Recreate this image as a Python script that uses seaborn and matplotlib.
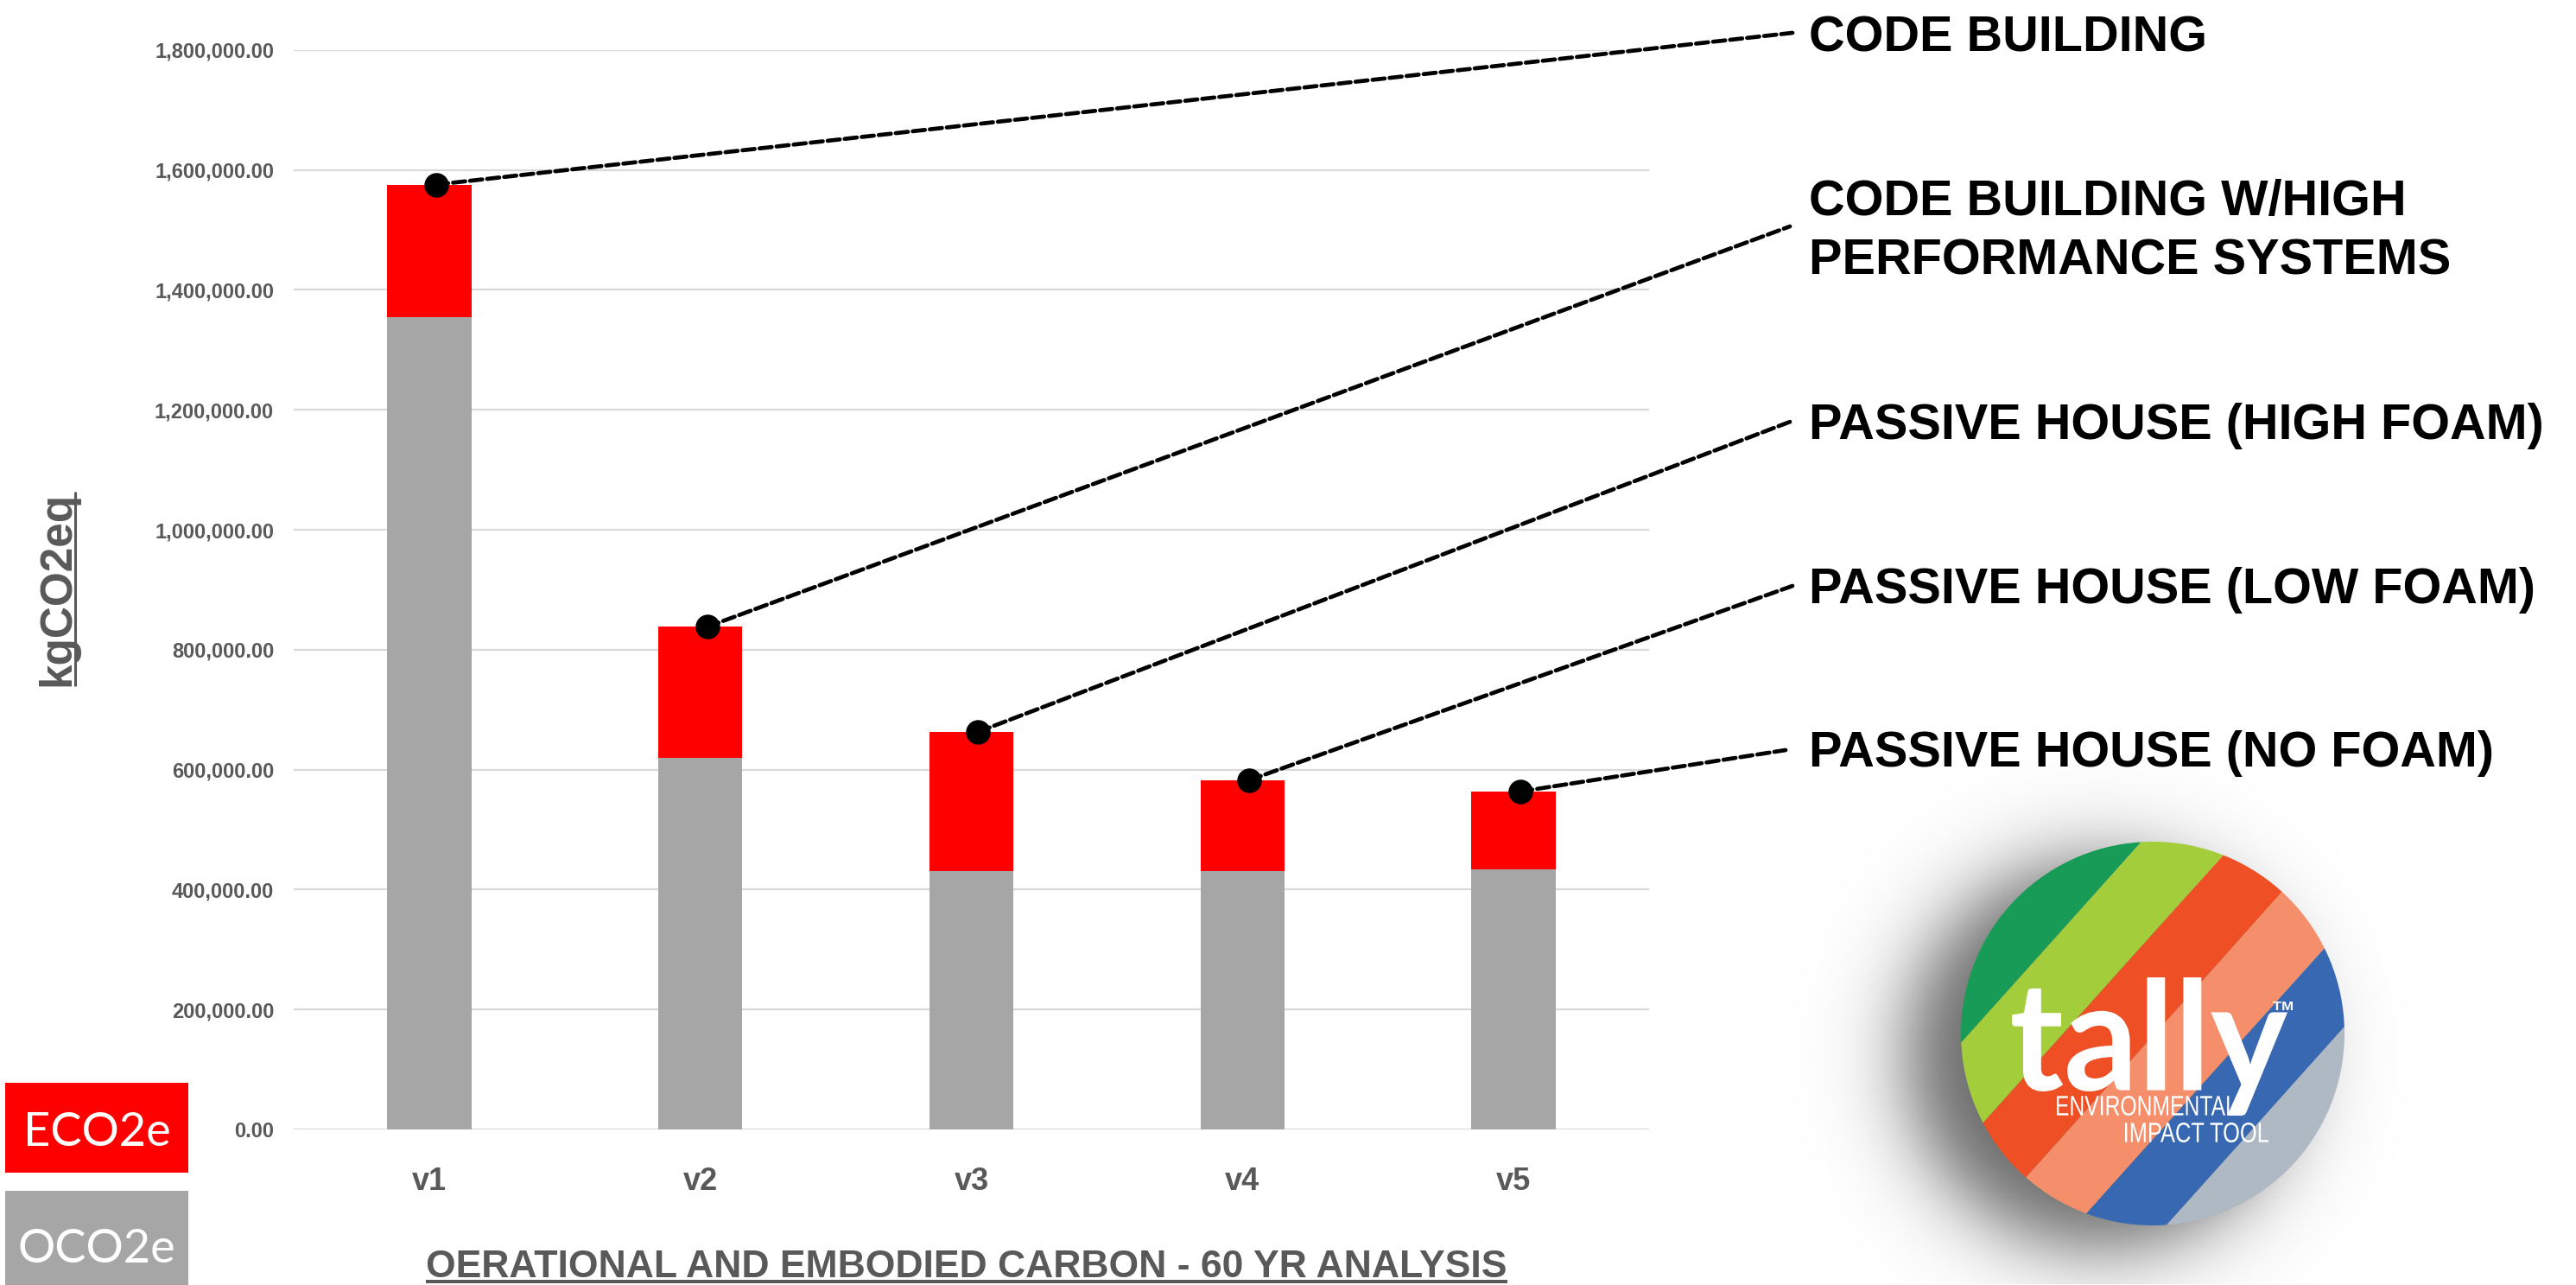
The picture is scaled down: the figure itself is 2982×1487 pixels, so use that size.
import numpy as np
import pandas as pd
import matplotlib
matplotlib.use("Agg")
import matplotlib.pyplot as plt
import seaborn as sns
from matplotlib.patches import Rectangle, Circle, Polygon, PathPatch
from matplotlib.textpath import TextPath
from matplotlib.font_manager import FontProperties
from matplotlib.transforms import Affine2D
from matplotlib.ticker import StrMethodFormatter

# ---- data -------------------------------------------------------------
categories = ["v1", "v2", "v3", "v4", "v5"]
operational = [1355000, 620000, 430500, 431000, 434000]   # OCO2e, kgCO2eq
embodied = [220500, 218000, 232500, 151500, 129500]       # ECO2e, kgCO2eq
scenario_labels = [
    ["CODE BUILDING"],
    ["CODE BUILDING W/HIGH", "PERFORMANCE SYSTEMS"],
    ["PASSIVE HOUSE (HIGH FOAM)"],
    ["PASSIVE HOUSE (LOW FOAM)"],
    ["PASSIVE HOUSE (NO FOAM)"],
]
y_ticks = [0, 200000, 400000, 600000, 800000, 1000000, 1200000, 1400000,
           1600000, 1800000]
legend_labels = ["ECO2e", "OCO2e"]
x_title = "OERATIONAL AND EMBODIED CARBON - 60 YR ANALYSIS"
y_title = "kgCO2eq"

# ---- style ------------------------------------------------------------
W, H = 2982, 1487
RED = "#FF0000"
GREY = "#A6A6A6"
TEXT = "#595959"
GRID = "#D9D9D9"

sns.set_theme(style="white")
plt.rcParams["font.family"] = ["Liberation Sans", "DejaVu Sans"]

fig = plt.figure(figsize=(W / 100, H / 100), dpi=100)
fig.patch.set_facecolor("white")

# overlay in pixel units (y grows downward) for callouts, legend and logo
ov = fig.add_axes([0, 0, 1, 1], zorder=3)
ov.set_xlim(0, W)
ov.set_ylim(H, 0)
ov.axis("off")

ax = fig.add_axes([340 / W, (H - 1307) / H, (1909 - 340) / W, (1307 - 57.8) / H],
                  zorder=2)
ax.patch.set_alpha(0)

df = pd.DataFrame({"version": categories,
                   "operational": operational,
                   "embodied": embodied})
df["total"] = df["operational"] + df["embodied"]

# stacked bars: full height in red, operational part in grey on top
sns.barplot(data=df, x="version", y="total", color=RED, saturation=1,
            width=0.31, linewidth=0, errorbar=None, ax=ax)
sns.barplot(data=df, x="version", y="operational", color=GREY, saturation=1,
            width=0.31, linewidth=0, errorbar=None, ax=ax)

ax.set_xlim(-0.5, len(categories) - 0.5)
ax.set_ylim(0, 1800000)
ax.set_yticks(y_ticks)
ax.yaxis.set_major_formatter(StrMethodFormatter("{x:,.2f}"))
ax.grid(axis="y", color=GRID, lw=1.6)
ax.grid(axis="x", visible=False)
ax.set_axisbelow(True)
for s in ax.spines.values():
    s.set_visible(False)
ax.tick_params(axis="y", length=0, pad=16.5, labelsize=17, labelcolor=TEXT)
ax.tick_params(axis="x", length=0, pad=31, labelsize=26, labelcolor=TEXT)
for lab in ax.get_xticklabels() + ax.get_yticklabels():
    lab.set_fontweight("bold")

# axis titles
ax.set_xlabel(x_title, fontsize=32, fontweight="bold", color=TEXT,
              va="baseline", ha="center")
ax.xaxis.set_label_coords(1119, 1478, transform=ov.transData)
ax.set_ylabel(y_title, fontsize=37, fontweight="bold", color=TEXT,
              rotation=90, rotation_mode="anchor", va="baseline", ha="center")
ax.yaxis.set_label_coords(80, 681.5, transform=ov.transData)

# ---- callouts: dot on each bar, dashed leader to its scenario name ----
totals = df["total"].to_numpy()
dot_x = np.arange(len(categories)) + 0.025
anchors = [(2075, 38), (2072, 262), (2075, 487), (2075, 678), (2067, 868)]
baselines = [[59], [249, 317], [508], [698], [887]]
for i in range(len(categories)):
    ax_x, ax_y = anchors[i]
    ax.annotate("", xy=(ax_x / W, 1 - ax_y / H), xycoords="figure fraction",
                xytext=(dot_x[i], totals[i]), textcoords="data",
                arrowprops=dict(arrowstyle="-", color="black", lw=3.4,
                                linestyle=(0, (3, 1.2)), shrinkA=0, shrinkB=0),
                annotation_clip=False)
    for line, base in zip(scenario_labels[i], baselines[i]):
        ov.text(2094, base, line, fontsize=41.5, fontweight="bold",
                color="black", ha="left", va="baseline")
ax.plot(dot_x, totals, "o", color="black", ms=19.5, ls="none",
        clip_on=False, zorder=6)

# ---- legend swatches ----
ov.add_patch(Rectangle((6, 1253), 212, 104, facecolor=RED, edgecolor="none"))
ov.add_patch(Rectangle((6, 1378), 212, 109, facecolor=GREY, edgecolor="none"))
ov.text(112, 1326, legend_labels[0], fontsize=39, color="white",
        family=["Lato", "DejaVu Sans"], ha="center", va="baseline")
ov.text(112, 1461, legend_labels[1], fontsize=39, color="white",
        family=["Lato", "DejaVu Sans"], ha="center", va="baseline")

# ---- tally badge ----
cx, cy, R = 2492, 1196, 222

xs = np.arange(2040, 2800, 2.0)
ys = np.arange(880, 1487, 2.0)
X, Y = np.meshgrid(xs, ys)
dist = np.hypot(X - (cx - 60), Y - (cy + 25))
shadow = np.zeros(X.shape + (4,))
shadow[..., 3] = 0.6 / (1 + np.exp((dist - R) / 28))
ov.imshow(shadow, extent=[xs[0], xs[-1], ys[-1], ys[0]], origin="upper",
          aspect="auto", interpolation="bilinear", zorder=1)

n = np.array([0.744, 0.668])
n = n / np.linalg.norm(n)
t = np.array([-n[1], n[0]])
c = np.array([cx, cy])
bounds = [-400, -158, -77, 2, 82, 160, 400]
stripe_colors = ["#189B57", "#A3CD3B", "#EF4F24", "#F48E6B", "#3768B1", "#AFB9C3"]
clip = Circle((cx, cy), R, transform=ov.transData)
L = 400
for k, col in enumerate(stripe_colors):
    d1, d2 = bounds[k], bounds[k + 1]
    pts = [c + d1 * n - L * t, c + d1 * n + L * t,
           c + d2 * n + L * t, c + d2 * n - L * t]
    poly = Polygon(pts, closed=True, facecolor=col, edgecolor="none", zorder=2)
    ov.add_patch(poly)
    poly.set_clip_path(clip)


def fit_text(axis, s, box, family, weight, color, z=4):
    x0, x1, ytop, ybot = box
    tp = TextPath((0, 0), s, size=100,
                  prop=FontProperties(family=family, weight=weight))
    ext = tp.get_extents()
    sx = (x1 - x0) / ext.width
    sy = (ybot - ytop) / ext.height
    tr = (Affine2D().translate(-ext.x0, -ext.y1).scale(sx, -sy)
          .translate(x0, ytop) + axis.transData)
    axis.add_patch(PathPatch(tp, facecolor=color, edgecolor="none",
                             transform=tr, zorder=z))


fit_text(ov, "tally", (2329, 2648, 1131, 1291), "Lato", "bold", "white")
fit_text(ov, "TM", (2631, 2654, 1159, 1169), "Liberation Sans", "bold", "white")
fit_text(ov, "ENVIRONMENTAL", (2381, 2589, 1268, 1291), "Liberation Sans",
         "normal", "white")
fit_text(ov, "IMPACT TOOL", (2460, 2626, 1299, 1322), "Liberation Sans",
         "normal", "white")

ov.set_xlim(0, W)
ov.set_ylim(H, 0)

# ---- underline the axis titles ----
fig.canvas.draw()
rend = fig.canvas.get_renderer()
inv = ov.transData.inverted()
bb = ax.xaxis.label.get_window_extent(rend)
(xa, _), (xb, _) = inv.transform([[bb.x0, bb.y0], [bb.x1, bb.y1]])
ov.plot([xa, xb], [1483, 1483], color=TEXT, lw=2.9, solid_capstyle="butt")
bb = ax.yaxis.label.get_window_extent(rend)
(_, ya), (_, yb) = inv.transform([[bb.x0, bb.y0], [bb.x1, bb.y1]])
ov.plot([87, 87], [ya, yb], color=TEXT, lw=2.2, solid_capstyle="butt")
ov.set_xlim(0, W)
ov.set_ylim(H, 0)

fig.savefig("out.png", dpi=100, facecolor="white")
